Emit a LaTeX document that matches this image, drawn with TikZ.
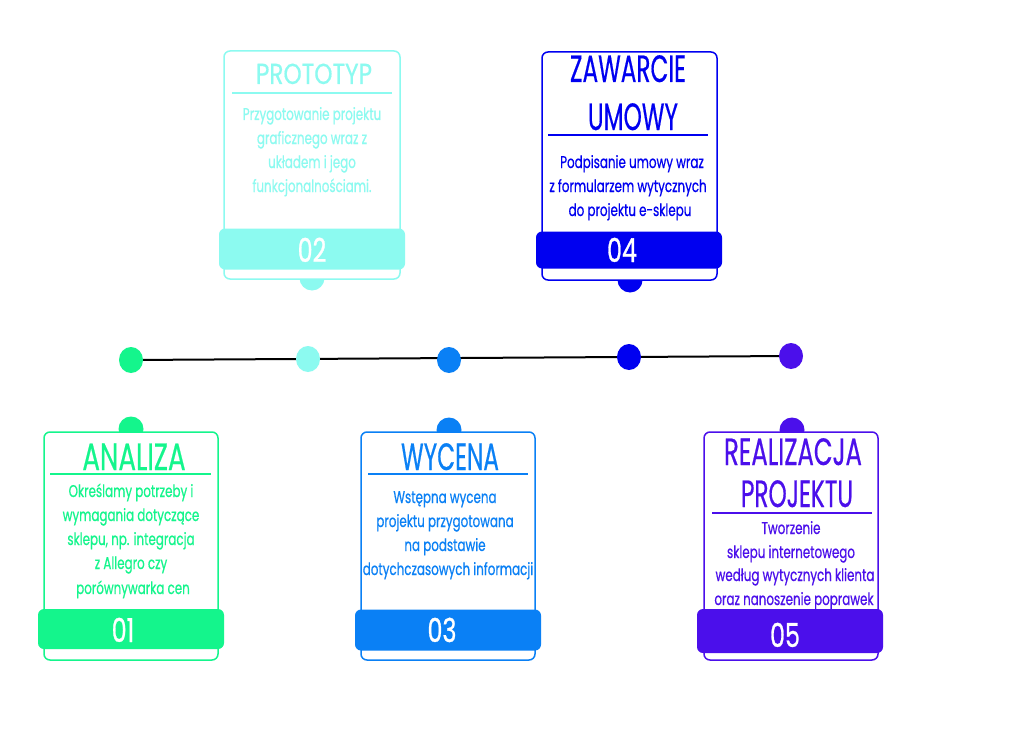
\documentclass[tikz,border=0pt]{standalone}
\usepackage{fontspec}
\usetikzlibrary{shapes.geometric}
\newfontfamily\ttlfont[FakeStretch=0.61,FakeBold=0.4]{Poppins}
\newfontfamily\ttlsfont[FakeStretch=0.8,FakeBold=0.3]{Poppins}
\newfontfamily\bodyfont[FakeStretch=0.70,FakeBold=0.6]{Poppins}
\newfontfamily\numfont[FakeStretch=0.72,FakeBold=0.8]{Poppins}
\definecolor{cA}{RGB}{20,245,140}
\definecolor{cB}{RGB}{140,250,240}
\definecolor{cC}{RGB}{10,128,245}
\definecolor{cD}{RGB}{0,0,240}
\definecolor{cE}{RGB}{75,15,235}
\tikzset{
  card/.style={draw=#1, line width=1.5pt, fill=white, rounded corners=6pt, inner sep=0pt},
  bar/.style={fill=#1, rounded corners=6pt, inner sep=0pt},
  tab/.style={circle, fill=#1, minimum size=25pt, inner sep=0pt},
  dot/.style={ellipse, fill=#1, minimum width=24pt, minimum height=26pt, inner sep=0pt},
  ttl/.style={text=#1, font=\ttlfont\fontsize{38}{38}\selectfont, anchor=base, inner sep=0pt},
  ttls/.style={text=#1, font=\ttlsfont\fontsize{29}{29}\selectfont, anchor=base, inner sep=0pt},
  body/.style={text=#1, font=\bodyfont\fontsize{17}{17}\selectfont, anchor=base, inner sep=0pt},
  num/.style={text=white, font=\numfont\fontsize{33}{33}\selectfont, anchor=base, inner sep=0pt},
  uline/.style={draw=#1, line width=2pt},
}
\begin{document}
\begin{tikzpicture}[x=1pt,y=-1pt]
\fill[white] (0,0) rectangle (1024,749);
\useasboundingbox (0,0) rectangle (1024,749);

% timeline
\coordinate (t1) at (131,360);
\coordinate (t2) at (308,359);
\coordinate (t3) at (449,360);
\coordinate (t4) at (629,357);
\coordinate (t5) at (791,356);
\draw[black, line width=2pt] (t1) -- (t5);
\node[dot=cA] (d1) at (t1) {};
\node[dot=cB] (d2) at (t2) {};
\node[dot=cC] (d3) at (t3) {};
\node[dot=cD] (d4) at (t4) {};
\node[dot=cE] (d5) at (t5) {};

% ---- Box 01
\node[tab=cA] (tab1) at (131,429) {};
\node[card=cA, minimum width=174pt, minimum height=228pt] (box1) at (131,546) {};
\node[bar=cA, minimum width=186pt, minimum height=40pt] (bar1) at (131,629) {};
\node[ttl=cA] (ttl1) at (134,470) {\scalebox{1.13}[1]{ANALIZA}};
\coordinate (u1a) at (50,474); \coordinate (u1b) at (211,474);
\draw[uline=cA] (u1a) -- (u1b);
\node[body=cA] (b1a) at (131,497) {Określamy potrzeby i};
\node[body=cA] (b1b) at (131,521) {wymagania dotyczące};
\node[body=cA] (b1c) at (131,545) {sklepu, np. integracja};
\node[body=cA] (b1d) at (131,569) {z Allegro czy};
\node[body=cA] (b1e) at (133,594) {porównywarka cen};
\node[num] (n1) at (123,642) {01};

% ---- Box 02
\node[tab=cB] (tab2) at (312,278) {};
\node[card=cB, minimum width=176pt, minimum height=228pt] (box2) at (312,165) {};
\node[bar=cB, minimum width=186pt, minimum height=41pt] (bar2) at (312,249) {};
\node[ttls=cB] (ttl2) at (314,84) {PROTOTYP};
\coordinate (u2a) at (232,93); \coordinate (u2b) at (392,93);
\draw[uline=cB] (u2a) -- (u2b);
\node[body=cB] (b2a) at (312,120) {Przygotowanie projektu};
\node[body=cB] (b2b) at (312,144) {graficznego wraz z};
\node[body=cB] (b2c) at (312,168) {układem i jego};
\node[body=cB] (b2d) at (312,192) {funkcjonalnościami.};
\node[num] (n2) at (312,262) {02};

% ---- Box 03
\node[tab=cC] (tab3) at (449,430) {};
\node[card=cC, minimum width=174pt, minimum height=228pt] (box3) at (448,546) {};
\node[bar=cC, minimum width=186pt, minimum height=41pt] (bar3) at (448,630) {};
\node[ttl=cC] (ttl3) at (450,470) {WYCENA};
\coordinate (u3a) at (368,474); \coordinate (u3b) at (528,474);
\draw[uline=cC] (u3a) -- (u3b);
\node[body=cC] (b3a) at (445,503) {Wstępna wycena};
\node[body=cC] (b3b) at (445,527) {projektu przygotowana};
\node[body=cC] (b3c) at (445,551) {na podstawie};
\node[body=cC] (b3d) at (448,575) {dotychczasowych informacji};
\node[num] (n3) at (442,642) {03};

% ---- Box 04
\node[tab=cD] (tab4) at (630,280) {};
\node[card=cD, minimum width=175pt, minimum height=228pt] (box4) at (629.5,166) {};
\node[bar=cD, minimum width=186pt, minimum height=37pt] (bar4) at (629,250) {};
\node[ttl=cD] (ttl4a) at (628,82) {ZAWARCIE};
\node[ttl=cD] (ttl4b) at (633,130) {UMOWY};
\coordinate (u4a) at (548,135); \coordinate (u4b) at (708,135);
\draw[uline=cD] (u4a) -- (u4b);
\node[body=cD] (b4a) at (632,168) {Podpisanie umowy wraz};
\node[body=cD] (b4b) at (628,192) {z formularzem wytycznych};
\node[body=cD] (b4c) at (630,216) {do projektu e-sklepu};
\node[num] (n4) at (622,262) {04};

% ---- Box 05
\node[tab=cE] (tab5) at (792,430) {};
\node[card=cE, minimum width=174pt, minimum height=228pt] (box5) at (791,546) {};
\node[bar=cE, minimum width=186pt, minimum height=44pt] (bar5) at (790,631) {};
\node[ttl=cE] (ttl5a) at (793,465) {\scalebox{1.05}[1]{REALIZACJA}};
\node[ttl=cE] (ttl5b) at (797,507) {PROJEKTU};
\coordinate (u5a) at (712,513); \coordinate (u5b) at (872,513);
\draw[uline=cE] (u5a) -- (u5b);
\node[body=cE] (b5a) at (791,534) {Tworzenie};
\node[body=cE] (b5b) at (791,558) {sklepu internetowego};
\node[body=cE] (b5c) at (795,581) {według wytycznych klienta};
\node[body=cE] (b5d) at (794,605) {oraz nanoszenie poprawek};
\node[num] (n5) at (785,647) {05};
\end{tikzpicture}
\end{document}
